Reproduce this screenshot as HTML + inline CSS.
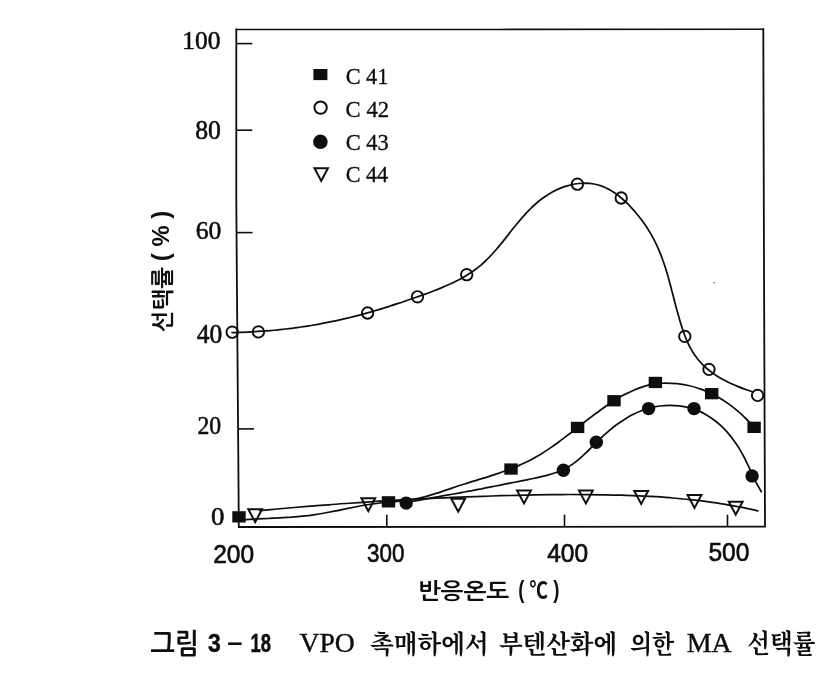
<!DOCTYPE html>
<html lang="ko"><head><meta charset="utf-8"><title>그림 3-18 VPO 촉매하에서 부텐산화에 의한 MA 선택률</title>
<style>html,body{margin:0;padding:0;background:#fff;overflow:hidden}svg{display:block;filter:grayscale(1)}.ser{font-family:"Liberation Serif","Noto Serif CJK SC","Noto Serif CJK KR",serif}.san{font-family:"Liberation Sans","Noto Sans CJK KR","NanumGothic",sans-serif}.kg{font-family:"Liberation Sans","NanumGothic","Noto Sans CJK KR",sans-serif}.kmm{font-family:"Liberation Serif","Noto Serif CJK SC","Noto Serif CJK KR",serif}text{fill:#0e0e0e}</style></head><body>
<svg width="818" height="682" viewBox="0 0 818 682">
<rect width="818" height="682" fill="#fff"/>
<!-- plot frame (slightly skewed, as in the scanned figure) -->
<path d="M763.3 29.2 L764 266 L765 526.6 L500 526.9 L238.8 527 L238.3 456 L237 296 L236.3 200 L236.3 29.5" fill="none" stroke="#0e0e0e" stroke-width="1.8" stroke-linejoin="miter" stroke-linecap="square"/>
<path d="M236.3 29.5 L500 29.4 L763.3 29.2" fill="none" stroke="#0e0e0e" stroke-width="1.55" stroke-linecap="square"/>
<!-- axis ticks -->
<g stroke="#0e0e0e" stroke-width="1.6">
<line x1="236.3" y1="43.6" x2="252.3" y2="43.6"/>
<line x1="236.3" y1="130.2" x2="252.3" y2="130.2"/>
<line x1="236.5" y1="232.6" x2="252.5" y2="232.6"/>
<line x1="238.1" y1="428.9" x2="254.1" y2="428.9"/>
<line x1="386.8" y1="514.7" x2="386.8" y2="527"/>
<line x1="564.5" y1="514.7" x2="564.5" y2="527"/>
<line x1="727.5" y1="514.7" x2="727.5" y2="527"/>
</g>
<!-- fitted curves -->
<g fill="none" stroke="#0e0e0e" stroke-width="1.75" stroke-linecap="round" stroke-linejoin="round">
<path d="M232.1 332.6C233.4 332.6 237.1 332.5 239.7 332.4C242.2 332.3 244.7 332.2 247.3 332.1C249.8 332.0 252.4 331.9 254.9 331.7C257.5 331.6 260.0 331.4 262.6 331.2C265.1 331.0 267.7 330.8 270.2 330.6C272.8 330.4 275.3 330.1 277.9 329.9C280.4 329.6 283.0 329.3 285.6 329.0C288.1 328.7 290.7 328.4 293.2 328.1C295.8 327.7 298.3 327.4 300.9 327.0C303.4 326.7 305.9 326.3 308.5 325.9C311.0 325.5 313.6 325.0 316.1 324.6C318.6 324.1 321.1 323.7 323.7 323.2C326.2 322.7 328.7 322.2 331.2 321.7C333.7 321.2 336.2 320.7 338.7 320.1C341.2 319.6 343.7 319.0 346.2 318.4C348.7 317.8 351.1 317.2 353.6 316.6C356.1 316.0 358.5 315.3 361.0 314.7C363.4 314.0 365.9 313.3 368.3 312.6C370.7 312.0 373.2 311.2 375.6 310.5C378.0 309.8 380.5 309.1 382.9 308.3C385.3 307.6 387.7 306.8 390.2 306.0C392.6 305.3 395.0 304.5 397.4 303.7C399.9 302.9 402.3 302.1 404.7 301.2C407.1 300.4 409.6 299.6 412.0 298.7C414.5 297.9 416.9 297.0 419.3 296.2C421.8 295.3 424.3 294.4 426.7 293.6C429.1 292.7 431.6 291.8 434.0 290.8C436.5 289.9 438.9 288.9 441.3 287.9C443.7 286.9 446.1 285.9 448.4 284.8C450.8 283.8 453.1 282.7 455.4 281.5C457.7 280.4 460.0 279.2 462.2 277.9C464.5 276.7 466.6 275.4 468.8 274.0C470.9 272.6 473.0 271.2 475.0 269.7C477.1 268.2 479.0 266.7 481.0 265.1C482.9 263.4 484.7 261.7 486.5 260.0C488.3 258.2 490.1 256.4 491.8 254.5C493.5 252.7 495.2 250.8 496.9 248.8C498.5 246.9 500.1 244.9 501.8 242.9C503.4 240.9 505.0 238.9 506.6 236.9C508.2 234.9 509.7 232.8 511.3 230.8C512.9 228.8 514.5 226.8 516.2 224.8C517.8 222.8 519.4 220.8 521.1 218.9C522.8 216.9 524.5 215.0 526.2 213.1C528.0 211.3 529.7 209.4 531.6 207.6C533.4 205.9 535.3 204.1 537.3 202.5C539.2 200.8 541.2 199.3 543.3 197.8C545.4 196.3 547.6 194.8 549.8 193.5C552.0 192.2 554.2 191.0 556.6 189.9C558.9 188.8 561.3 187.8 563.7 186.9C566.1 186.1 568.6 185.4 571.1 184.8C573.6 184.2 576.1 183.8 578.7 183.5C581.2 183.3 583.8 183.2 586.3 183.2C588.9 183.3 591.4 183.6 593.9 184.0C596.3 184.4 598.8 185.1 601.1 185.9C603.5 186.7 605.8 187.7 608.0 188.9C610.2 190.0 612.4 191.4 614.5 192.8C616.6 194.2 618.7 195.8 620.7 197.5C622.7 199.1 624.6 200.9 626.5 202.7C628.4 204.5 630.2 206.4 632.0 208.3C633.8 210.2 635.5 212.2 637.1 214.2C638.8 216.2 640.4 218.3 641.9 220.3C643.4 222.4 644.9 224.5 646.3 226.6C647.7 228.8 649.1 230.9 650.4 233.1C651.7 235.3 652.9 237.6 654.1 239.8C655.3 242.1 656.4 244.4 657.4 246.7C658.5 249.0 659.4 251.3 660.4 253.7C661.3 256.0 662.2 258.4 663.0 260.8C663.9 263.2 664.7 265.6 665.5 268.0C666.2 270.4 667.0 272.9 667.7 275.3C668.4 277.8 669.1 280.3 669.7 282.7C670.4 285.2 671.1 287.7 671.7 290.2C672.4 292.7 673.0 295.2 673.7 297.7C674.3 300.2 674.9 302.7 675.6 305.2C676.2 307.7 676.9 310.1 677.6 312.6C678.3 315.1 679.0 317.6 679.7 320.1C680.4 322.5 681.2 325.0 682.0 327.5C682.8 329.9 683.6 332.3 684.5 334.7C685.4 337.1 686.4 339.5 687.4 341.8C688.4 344.1 689.5 346.4 690.8 348.6C692.0 350.8 693.2 353.0 694.7 355.1C696.1 357.1 697.6 359.1 699.3 361.0C700.9 363.0 702.7 364.8 704.6 366.5C706.5 368.2 708.5 369.9 710.5 371.4C712.6 373.0 714.7 374.5 716.9 375.9C719.0 377.2 721.3 378.6 723.5 379.8C725.8 381.0 728.1 382.2 730.4 383.3C732.7 384.4 735.1 385.4 737.5 386.4C739.8 387.3 742.2 388.2 744.6 389.1C747.0 389.9 750.6 391.1 751.8 391.5"/>
<path d="M246.0 519.6C247.9 519.5 253.5 519.1 257.2 518.9C261.0 518.7 264.7 518.5 268.5 518.4C272.2 518.2 276.0 518.0 279.8 517.8C283.5 517.6 287.3 517.4 291.1 517.2C294.8 516.9 298.6 516.6 302.3 516.2C306.1 515.8 309.8 515.4 313.5 514.8C317.2 514.3 320.9 513.7 324.6 513.0C328.3 512.3 332.0 511.6 335.7 510.9C339.3 510.2 343.0 509.4 346.7 508.6C350.4 507.9 354.1 507.2 357.7 506.5C361.4 505.8 365.1 505.1 368.9 504.5C372.6 504.0 376.3 503.4 380.1 503.0C383.8 502.6 387.6 502.3 391.4 501.9C395.2 501.6 398.9 501.3 402.7 500.9C406.4 500.4 410.1 499.9 413.8 499.3C417.5 498.6 421.1 497.7 424.7 496.8C428.2 495.8 431.8 494.7 435.3 493.6C438.9 492.5 442.4 491.3 446.0 490.1C449.5 488.9 453.1 487.7 456.6 486.5C460.2 485.3 463.9 484.2 467.5 483.1C471.1 482.0 474.7 480.9 478.4 479.7C482.0 478.6 485.6 477.5 489.2 476.3C492.8 475.2 496.4 474.0 500.0 472.8C503.6 471.5 507.1 470.2 510.6 468.9C514.1 467.5 517.6 466.1 521.0 464.5C524.4 463.0 527.7 461.4 531.0 459.7C534.3 457.9 537.5 456.1 540.7 454.2C543.8 452.2 546.9 450.2 550.0 448.1C553.1 446.0 556.1 443.9 559.1 441.7C562.1 439.5 565.1 437.2 568.1 434.9C571.1 432.6 574.1 430.3 577.1 428.0C580.0 425.6 583.0 423.3 586.0 420.9C589.0 418.6 592.0 416.3 595.1 414.0C598.2 411.7 601.3 409.4 604.4 407.2C607.5 405.0 610.7 402.8 613.9 400.8C617.1 398.8 620.3 396.8 623.6 395.0C627.0 393.3 630.3 391.6 633.7 390.2C637.1 388.7 640.6 387.4 644.1 386.4C647.6 385.3 651.2 384.5 654.8 383.9C658.5 383.4 662.2 383.1 665.9 383.0C669.6 383.0 673.4 383.2 677.2 383.6C681.0 384.0 684.7 384.7 688.5 385.5C692.2 386.3 695.9 387.4 699.5 388.7C703.1 389.9 706.6 391.3 710.1 392.9C713.5 394.5 716.8 396.3 720.0 398.2C723.2 400.1 726.3 402.2 729.3 404.4C732.3 406.6 735.2 408.9 738.1 411.4C740.9 413.8 743.6 416.4 746.3 419.0C749.0 421.7 752.8 425.9 754.1 427.3"/>
<path d="M406.1 502.5C407.7 502.3 412.3 501.4 415.5 500.8C418.6 500.2 421.7 499.6 424.9 499.1C428.0 498.5 431.2 497.9 434.3 497.4C437.5 496.8 440.6 496.3 443.8 495.7C447.0 495.2 450.1 494.6 453.3 494.0C456.4 493.5 459.6 492.9 462.7 492.3C465.9 491.7 469.0 491.1 472.1 490.6C475.3 490.0 478.4 489.4 481.6 488.8C484.7 488.1 487.8 487.5 491.0 486.9C494.1 486.3 497.3 485.7 500.4 485.1C503.6 484.4 506.7 483.8 509.9 483.2C513.0 482.6 516.2 481.9 519.3 481.3C522.5 480.7 525.6 480.0 528.8 479.4C532.0 478.7 535.2 478.1 538.3 477.4C541.5 476.7 544.7 476.1 547.7 475.2C550.8 474.3 553.9 473.4 556.8 472.3C559.8 471.2 562.6 470.0 565.4 468.5C568.2 467.0 570.8 465.4 573.4 463.6C575.9 461.7 578.4 459.7 580.8 457.6C583.2 455.5 585.4 453.3 587.8 451.0C590.1 448.8 592.3 446.4 594.6 444.1C596.9 441.9 599.3 439.6 601.7 437.3C604.0 435.1 606.5 433.0 608.9 430.9C611.4 428.8 613.9 426.7 616.5 424.8C619.1 422.9 621.7 421.1 624.4 419.4C627.1 417.7 629.8 416.1 632.6 414.6C635.4 413.2 638.3 411.9 641.3 410.7C644.2 409.6 647.3 408.6 650.4 407.8C653.5 407.0 656.6 406.4 659.8 406.0C663.0 405.6 666.3 405.3 669.5 405.3C672.8 405.3 676.0 405.4 679.2 405.8C682.4 406.2 685.6 406.8 688.8 407.6C691.9 408.4 694.9 409.4 697.9 410.6C700.9 411.8 703.7 413.3 706.5 414.9C709.3 416.5 711.9 418.3 714.4 420.2C717.0 422.1 719.4 424.2 721.7 426.4C724.0 428.6 726.2 430.9 728.3 433.4C730.4 435.8 732.3 438.4 734.2 441.0C736.1 443.6 737.9 446.3 739.6 449.1C741.2 451.8 742.8 454.7 744.3 457.5C745.8 460.4 747.1 463.3 748.5 466.2C749.9 469.1 751.1 472.0 752.5 474.9C753.8 477.7 755.1 480.6 756.6 483.4C758.1 486.2 760.5 490.3 761.3 491.7"/>
<path d="M259.9 510.6C262.8 510.3 271.3 509.5 277.1 509.0C282.8 508.5 288.5 508.0 294.2 507.5C300.0 507.0 305.7 506.6 311.4 506.1C317.1 505.7 322.9 505.2 328.6 504.8C334.3 504.3 340.0 503.9 345.8 503.5C351.5 503.1 357.2 502.7 362.9 502.3C368.7 502.0 374.4 501.6 380.1 501.2C385.9 500.9 391.6 500.5 397.3 500.2C403.0 499.9 408.8 499.5 414.5 499.2C420.2 498.9 426.0 498.7 431.7 498.4C437.4 498.1 443.2 497.8 448.9 497.6C454.6 497.3 460.4 497.1 466.1 496.9C471.8 496.7 477.6 496.5 483.3 496.3C489.0 496.1 494.8 495.9 500.5 495.7C506.3 495.6 512.0 495.4 517.8 495.3C523.5 495.2 529.2 495.0 535.0 494.9C540.7 494.8 546.5 494.7 552.2 494.7C558.0 494.6 563.7 494.6 569.5 494.5C575.2 494.5 581.0 494.5 586.7 494.6C592.5 494.6 598.2 494.7 604.0 494.8C609.7 494.9 615.5 495.0 621.2 495.2C627.0 495.3 632.7 495.6 638.4 495.8C644.2 496.1 649.9 496.4 655.6 496.7C661.4 497.1 667.1 497.5 672.8 498.0C678.5 498.5 684.2 499.0 689.9 499.6C695.6 500.2 701.3 500.9 707.0 501.6C712.7 502.4 718.3 503.2 724.0 504.1C729.7 505.1 735.3 506.1 740.9 507.2C746.6 508.3 755.0 510.2 757.8 510.8"/>
</g>
<!-- data markers -->
<path d="M248.3 509.2 L262.1 509.2 L255.2 522.1 Z" fill="none" stroke="#0e0e0e" stroke-width="2.0" stroke-linejoin="miter"/>
<path d="M361.4 498.2 L375.2 498.2 L368.3 511.1 Z" fill="none" stroke="#0e0e0e" stroke-width="2.0" stroke-linejoin="miter"/>
<path d="M451.3 498.8 L465.1 498.8 L458.2 511.7 Z" fill="none" stroke="#0e0e0e" stroke-width="2.0" stroke-linejoin="miter"/>
<path d="M517.1 490.6 L530.9 490.6 L524.0 503.5 Z" fill="none" stroke="#0e0e0e" stroke-width="2.0" stroke-linejoin="miter"/>
<path d="M579.0 490.6 L592.8 490.6 L585.9 503.5 Z" fill="none" stroke="#0e0e0e" stroke-width="2.0" stroke-linejoin="miter"/>
<path d="M634.3 491.0 L648.1 491.0 L641.2 503.9 Z" fill="none" stroke="#0e0e0e" stroke-width="2.0" stroke-linejoin="miter"/>
<path d="M687.6 495.0 L701.4 495.0 L694.5 507.9 Z" fill="none" stroke="#0e0e0e" stroke-width="2.0" stroke-linejoin="miter"/>
<path d="M728.8 501.8 L742.6 501.8 L735.7 514.7 Z" fill="none" stroke="#0e0e0e" stroke-width="2.0" stroke-linejoin="miter"/>
<circle cx="232.2" cy="332.2" r="5.70" fill="none" stroke="#0e0e0e" stroke-width="1.90"/>
<circle cx="258.4" cy="331.9" r="5.70" fill="none" stroke="#0e0e0e" stroke-width="1.90"/>
<circle cx="367.6" cy="313.0" r="5.70" fill="none" stroke="#0e0e0e" stroke-width="1.90"/>
<circle cx="417.5" cy="296.8" r="5.70" fill="none" stroke="#0e0e0e" stroke-width="1.90"/>
<circle cx="466.7" cy="274.7" r="5.70" fill="none" stroke="#0e0e0e" stroke-width="1.90"/>
<circle cx="577.4" cy="184.2" r="5.70" fill="none" stroke="#0e0e0e" stroke-width="1.90"/>
<circle cx="621.2" cy="198.0" r="5.70" fill="none" stroke="#0e0e0e" stroke-width="1.90"/>
<circle cx="684.8" cy="336.4" r="5.70" fill="none" stroke="#0e0e0e" stroke-width="1.90"/>
<circle cx="709.0" cy="369.4" r="5.70" fill="none" stroke="#0e0e0e" stroke-width="1.90"/>
<circle cx="757.6" cy="395.4" r="5.70" fill="none" stroke="#0e0e0e" stroke-width="1.90"/>
<rect x="232.3" y="511.2" width="13.4" height="11.3" fill="#0e0e0e"/>
<rect x="381.8" y="496.2" width="13.4" height="11.3" fill="#0e0e0e"/>
<rect x="504.3" y="463.4" width="13.4" height="11.3" fill="#0e0e0e"/>
<rect x="570.9" y="421.8" width="13.4" height="11.3" fill="#0e0e0e"/>
<rect x="607.3" y="395.1" width="13.4" height="11.3" fill="#0e0e0e"/>
<rect x="648.7" y="376.8" width="13.4" height="11.3" fill="#0e0e0e"/>
<rect x="705.0" y="388.0" width="13.4" height="11.3" fill="#0e0e0e"/>
<rect x="747.4" y="421.7" width="13.4" height="11.3" fill="#0e0e0e"/>
<circle cx="406.2" cy="503.1" r="6.7" fill="#0e0e0e"/>
<circle cx="563.4" cy="470.2" r="6.7" fill="#0e0e0e"/>
<circle cx="596.3" cy="442.3" r="6.7" fill="#0e0e0e"/>
<circle cx="648.6" cy="408.6" r="6.7" fill="#0e0e0e"/>
<circle cx="694.0" cy="408.6" r="6.7" fill="#0e0e0e"/>
<circle cx="752.1" cy="475.9" r="6.7" fill="#0e0e0e"/>
<circle cx="714.2" cy="282.8" r="0.8" fill="#555"/>
<!-- legend -->
<rect x="313.4" y="69.0" width="14.0" height="11.1" fill="#0e0e0e"/>
<circle cx="320.6" cy="107.6" r="6.20" fill="none" stroke="#0e0e0e" stroke-width="2.00"/>
<circle cx="320.4" cy="141.8" r="7.3" fill="#0e0e0e"/>
<path d="M314.5 168.3 L327.9 168.3 L321.2 180.9 Z" fill="none" stroke="#0e0e0e" stroke-width="2.0" stroke-linejoin="miter"/>
<text class="ser" transform="translate(182.37 49.32) scale(0.977 1)" font-size="26.00" stroke="#0e0e0e" stroke-width="0.57">100</text>
<text class="ser" transform="translate(195.13 139.41) scale(0.976 1)" font-size="26.38" stroke="#0e0e0e" stroke-width="0.58">80</text>
<text class="ser" transform="translate(195.63 239.02) scale(0.983 1)" font-size="26.09" stroke="#0e0e0e" stroke-width="0.57">60</text>
<text class="ser" transform="translate(196.84 342.80) scale(0.962 1)" font-size="26.52" stroke="#0e0e0e" stroke-width="0.58">40</text>
<text class="ser" transform="translate(197.39 434.03) scale(0.930 1)" font-size="25.51" stroke="#0e0e0e" stroke-width="0.56">20</text>
<text class="ser" transform="translate(211.00 524.76) scale(1.089 1)" font-size="24.64" stroke="#0e0e0e" stroke-width="0.54">0</text>
<text class="san" transform="translate(213.22 563.07) scale(0.932 1)" font-size="26.30" stroke="#0e0e0e" stroke-width="0.66">200</text>
<text class="san" transform="translate(367.05 562.29) scale(0.879 1)" font-size="25.48" stroke="#0e0e0e" stroke-width="0.64">300</text>
<text class="san" transform="translate(547.16 561.79) scale(0.956 1)" font-size="25.62" stroke="#0e0e0e" stroke-width="0.64">400</text>
<text class="san" transform="translate(708.46 561.07) scale(0.935 1)" font-size="26.30" stroke="#0e0e0e" stroke-width="0.66">500</text>
<text class="ser" transform="translate(345.63 84.44) scale(0.970 1)" font-size="23.04" stroke="#0e0e0e" stroke-width="0.32">C 41</text>
<text class="ser" transform="translate(345.62 116.93) scale(0.963 1)" font-size="23.53" stroke="#0e0e0e" stroke-width="0.33">C 42</text>
<text class="ser" transform="translate(345.63 149.53) scale(0.953 1)" font-size="23.53" stroke="#0e0e0e" stroke-width="0.33">C 43</text>
<text class="ser" transform="translate(345.63 182.33) scale(0.943 1)" font-size="23.53" stroke="#0e0e0e" stroke-width="0.33">C 44</text>
<text class="kg" transform="translate(417.97 598.75) scale(1.091 1)" font-size="22.32" font-weight="700">반응온도</text>
<text class="kg" transform="translate(518.28 597.54) scale(0.799 1)" font-size="23.13" font-weight="700">( ℃ )</text>
<text class="kg" transform="translate(150.28 654.41) scale(0.901 1)" font-size="28.82" font-weight="700">그림</text>
<text class="kg" transform="translate(208.04 652.38) scale(0.891 1)" font-size="25.75" font-weight="700" stroke="#0e0e0e" stroke-width="0.46">3</text>
<text class="kg" transform="translate(227.18 650.72) scale(1.054 1)" font-size="26.00" font-weight="700">–</text>
<text class="kg" transform="translate(250.58 652.38) scale(0.717 1)" font-size="25.75" font-weight="700" stroke="#0e0e0e" stroke-width="0.46">18</text>
<text class="ser" transform="translate(299.40 652.20) scale(1.039 1)" font-size="26.67" stroke="#0e0e0e" stroke-width="0.37">VPO</text>
<text class="kmm" transform="translate(370.01 653.26) scale(0.971 1)" font-size="25.31" font-weight="700">촉매하에서</text>
<text class="kmm" transform="translate(498.91 653.49) scale(0.958 1)" font-size="25.57" font-weight="700">부텐산화에</text>
<text class="kmm" transform="translate(629.88 653.49) scale(0.898 1)" font-size="25.57" font-weight="700">의한</text>
<text class="ser" transform="translate(686.74 652.34) scale(1.057 1)" font-size="26.47" stroke="#0e0e0e" stroke-width="0.37">MA</text>
<text class="kmm" transform="translate(747.33 653.35) scale(0.896 1)" font-size="26.22" font-weight="700">선택률</text>
<text class="kg" transform="translate(171.18 332.15) rotate(-90) scale(0.997 1)" font-size="23.16" font-weight="700">선택률</text>
<text class="kg" transform="translate(168.86 261.19) rotate(-90) scale(0.976 1)" font-size="24.47" font-weight="700">( % )</text>
</svg></body></html>
